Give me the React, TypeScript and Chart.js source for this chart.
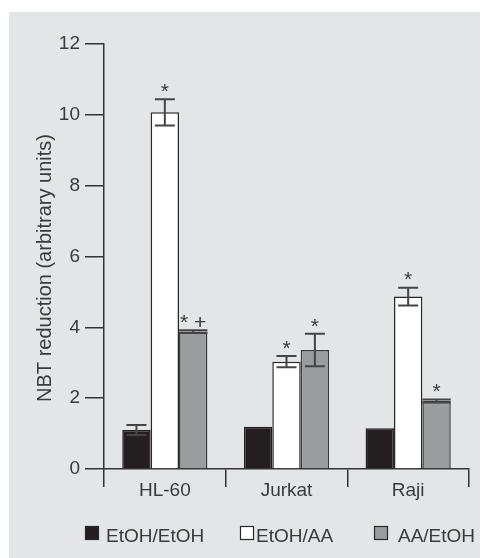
import React, { useEffect, useRef } from "react";
import { Chart, registerables } from "chart.js";

Chart.register(...registerables);

const categories = ["HL-60", "Jurkat", "Raji"];
const seriesNames = ["EtOH/EtOH", "EtOH/AA", "AA/EtOH"];
const etohEtoh = [1.1, 1.19, 1.15];
const etohAA = [10.07, 3.03, 4.87];
const aaEtoh = [3.88, 3.36, 1.92];
const errEtohEtoh = [0.14, 0, 0];
const errEtohAA = [0.37, 0.16, 0.25];
const errAaEtoh = [0.04, 0.46, 0.04];
const marksEtohEtoh = ["", "", ""];
const marksEtohAA = ["*", "*", "*"];
const marksAaEtoh = ["* +", "*", "*"];
const yTitle = "NBT reduction (arbitrary units)";
const yMin = 0;
const yMax = 12;
const yStep = 2;

const FONT = "'Liberation Sans', Arial, sans-serif";
const TEXT = "#3a3a3a";
const LINE = "#333333";

const errs = [errEtohEtoh, errEtohAA, errAaEtoh];
const marks = [marksEtohEtoh, marksEtohAA, marksAaEtoh];
const fills = ["#231f20", "#ffffff", "#9b9c9e"];
const borders = ["#231f20", "#2a2a2a", "#3a3a3a"];

const bgPlugin = {
  id: "bg",
  beforeDraw(chart: any) {
    const ctx = chart.ctx;
    ctx.save();
    ctx.fillStyle = "#ffffff";
    ctx.fillRect(0, 0, chart.width, chart.height);
    ctx.fillStyle = "#e4e5e7";
    ctx.fillRect(9, 12, 471, chart.height - 12);
    ctx.restore();
  },
};

const errPlugin = {
  id: "errbars",
  afterDatasetsDraw(chart: any) {
    const ctx = chart.ctx;
    const y = chart.scales.y;
    ctx.save();
    chart.data.datasets.forEach((ds: any, i: number) => {
      const meta = chart.getDatasetMeta(i);
      meta.data.forEach((bar: any, j: number) => {
        const v = ds.data[j];
        const e = errs[i][j];
        let top = y.getPixelForValue(v);
        if (e > 0) {
          const hi = y.getPixelForValue(v + e);
          const lo = y.getPixelForValue(v - e);
          ctx.strokeStyle = "#444";
          ctx.lineWidth = 2;
          ctx.beginPath();
          ctx.moveTo(bar.x, hi);
          ctx.lineTo(bar.x, lo);
          const cw = e < 0.1 ? bar.width / 2 : 10;
          ctx.moveTo(bar.x - cw, hi);
          ctx.lineTo(bar.x + cw, hi);
          ctx.moveTo(bar.x - cw, lo);
          ctx.lineTo(bar.x + cw, lo);
          ctx.stroke();
          top = hi;
        }
        const m = marks[i][j];
        if (m) {
          ctx.fillStyle = TEXT;
          ctx.font = `21px ${FONT}`;
          ctx.textAlign = "center";
          ctx.textBaseline = "middle";
          ctx.fillText(m, bar.x, top - 7);
        }
      });
    });
    ctx.restore();
  },
};

const textPlugin = {
  id: "texts",
  afterDraw(chart: any) {
    const ctx = chart.ctx;
    ctx.save();
    // y-axis title
    ctx.save();
    ctx.translate(45, 268);
    ctx.rotate(-Math.PI / 2);
    ctx.font = `20px ${FONT}`;
    ctx.fillStyle = TEXT;
    ctx.textAlign = "center";
    ctx.textBaseline = "middle";
    ctx.fillText(yTitle, 0, 0);
    ctx.restore();
    // legend
    const boxX = [85, 240, 374];
    const textX = [106, 256, 398];
    ctx.font = `19px ${FONT}`;
    ctx.textBaseline = "alphabetic";
    ctx.textAlign = "left";
    seriesNames.forEach((name, i) => {
      ctx.fillStyle = fills[i];
      ctx.fillRect(boxX[i], 526, 14, 14);
      ctx.strokeStyle = "#2a2a2a";
      ctx.lineWidth = 1.2;
      ctx.strokeRect(boxX[i] + 0.5, 526.5, 13, 13);
      ctx.fillStyle = TEXT;
      ctx.fillText(name, textX[i], 542);
    });
    ctx.restore();
  },
};

export default function App() {
  const ref = useRef<HTMLCanvasElement>(null);
  useEffect(() => {
    document.body.style.margin = "0";
    const canvas = ref.current!;
    const chart = new Chart(canvas, {
      type: "bar",
      data: {
        labels: categories,
        datasets: [etohEtoh, etohAA, aaEtoh].map((d, i) => ({
          label: seriesNames[i],
          data: d,
          backgroundColor: fills[i],
          borderColor: borders[i],
          borderWidth: 1.5,
          categoryPercentage: 0.7,
          barPercentage: 1,
        })),
      },
      options: {
        animation: false,
        responsive: false,
        devicePixelRatio: 1,
        layout: { padding: { left: 0, right: 23, top: 44, bottom: 49 } },
        plugins: { legend: { display: false }, tooltip: { enabled: false } },
        scales: {
          x: {
            offset: true,
            grid: {
              offset: true,
              drawOnChartArea: false,
              drawTicks: true,
              tickLength: 18,
              color: LINE,
              lineWidth: 1.5,
            },
            border: { color: LINE, width: 1.5 },
            ticks: { color: TEXT, font: { family: FONT, size: 19 }, padding: -8 },
            afterFit(s: any) {
              s.height = 40;
            },
          },
          y: {
            min: yMin,
            max: yMax,
            ticks: { stepSize: yStep, color: TEXT, font: { family: FONT, size: 19 }, padding: 5 },
            grid: {
              drawOnChartArea: false,
              drawTicks: true,
              tickLength: 19,
              color: LINE,
              lineWidth: 1.5,
            },
            border: { color: LINE, width: 1.5 },
            title: { display: false },
            afterFit(s: any) {
              s.width = 104;
            },
          },
        },
      },
      plugins: [bgPlugin, errPlugin, textPlugin],
    });
    return () => chart.destroy();
  }, []);
  return <canvas ref={ref} width={492} height={558} style={{ display: "block" }} />;
}
